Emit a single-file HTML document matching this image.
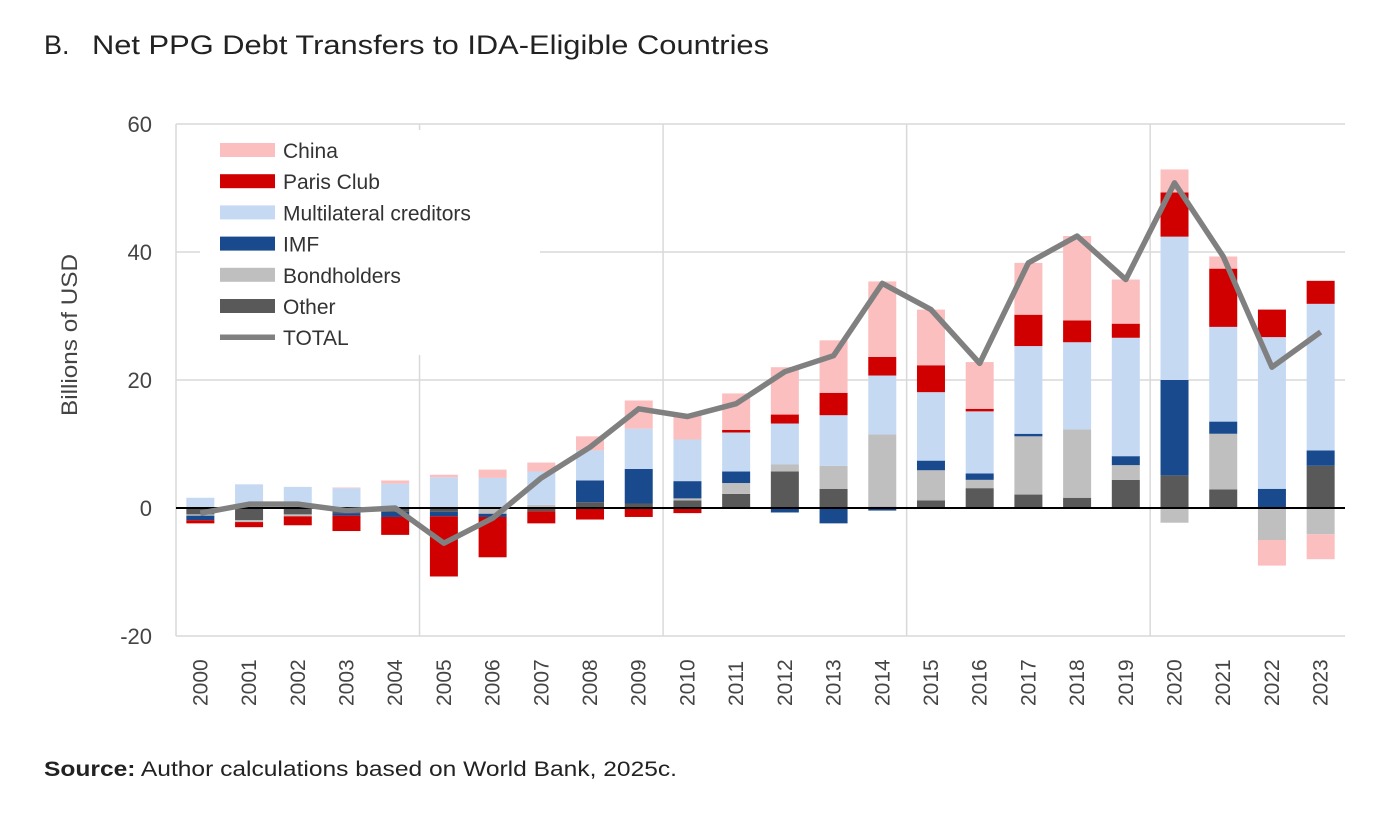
<!DOCTYPE html>
<html><head><meta charset="utf-8"><style>
body{margin:0;background:#fff;width:1392px;height:824px;overflow:hidden;font-family:"Liberation Sans",sans-serif;}
svg text{font-family:"Liberation Sans","DejaVu Sans",sans-serif;}
</style></head><body>
<svg id="chart" width="1392" height="824">
<text x="44" y="54" font-size="27" fill="#222"><tspan>B.</tspan><tspan x="92" textLength="677" lengthAdjust="spacingAndGlyphs">Net PPG Debt Transfers to IDA-Eligible Countries</tspan></text>
<text transform="translate(77,335) rotate(-90)" text-anchor="middle" font-size="22" fill="#444" textLength="162" lengthAdjust="spacingAndGlyphs">Billions of USD</text>
<text x="44" y="776" font-size="21" fill="#222" textLength="633" lengthAdjust="spacingAndGlyphs"><tspan font-weight="bold">Source:</tspan> Author calculations based on World Bank, 2025c.</text>
<g id="grid"></g><g id="bars"></g><g id="line"></g><g id="legend"></g>
</svg>
<script>
const years=["2000","2001","2002","2003","2004","2005","2006","2007","2008","2009","2010","2011","2012","2013","2014","2015","2016","2017","2018","2019","2020","2021","2022","2023"];
const other=[-1.0,-1.9,-1.0,-0.8,-0.6,-0.6,0,-0.5,0.9,0.7,1.2,2.2,5.7,3.0,0.2,1.2,3.1,2.1,1.6,4.4,5.1,2.9,0,6.6];
const bondholders=[-0.2,-0.3,-0.3,0,0,0,-0.9,0.5,0,0,0.3,1.7,1.1,3.6,11.3,4.7,1.3,9.1,10.7,2.3,-2.3,8.7,-5.0,-4.1];
const imf=[-0.7,0,0,-0.4,-0.8,-0.7,-0.5,0,3.4,5.4,2.7,1.8,-0.7,-2.4,-0.4,1.5,1.0,0.4,0,1.4,14.9,1.9,3.0,2.4];
const multilateral=[1.6,3.7,3.3,3.1,3.8,4.8,4.7,5.2,4.7,6.3,6.5,6.1,6.4,7.9,9.2,10.7,9.7,13.7,13.6,18.5,22.4,14.8,23.7,22.9];
const parisClub=[-0.5,-0.8,-1.4,-2.4,-2.8,-9.4,-6.3,-1.9,-1.8,-1.4,-0.8,0.4,1.4,3.5,2.9,4.2,0.4,4.9,3.4,2.2,6.9,9.1,4.3,3.6];
const china=[0,0,0,0.1,0.5,0.4,1.3,1.4,2.2,4.4,3.8,5.7,7.4,8.2,11.8,8.7,7.3,8.1,13.2,6.9,3.6,1.9,-4.0,-3.9];
const total=[-0.8,0.6,0.6,-0.4,0.0,-5.5,-1.6,4.7,9.5,15.5,14.3,16.3,21.3,23.8,35.1,31.0,22.6,38.3,42.5,35.7,50.8,39.3,22.0,27.5];
const yTicks=[60,40,20,0,-20];
const NS="http://www.w3.org/2000/svg";
const X0=176,X1=1345,band=(X1-X0)/years.length;
const y=v=>508-v*6.4;
const xc=i=>X0+band*(i+0.5);
function mk(tag,attrs,parent){const e=document.createElementNS(NS,tag);for(const k in attrs)e.setAttribute(k,attrs[k]);parent.appendChild(e);return e;}
const grid=document.getElementById('grid');
yTicks.forEach(t=>{
  if(t!==0){const l=mk('line',{x1:X0,x2:X1,y1:y(t),y2:y(t),stroke:'#d9d9d9','stroke-width':1.5},grid);
  
  }
  const tx=mk('text',{x:152,y:y(t)+8,'text-anchor':'end','font-size':22,fill:'#444'},grid);tx.textContent=t;
  
  
});
[0,5,10,15,20].forEach(i=>{const l=mk('line',{x1:X0+band*i,x2:X0+band*i,y1:y(60),y2:y(-20),stroke:'#d9d9d9','stroke-width':1.5},grid);
  
  });
years.forEach((yr,i)=>{const t=mk('text',{transform:`translate(${xc(i)+7},706) rotate(-90)`,'font-size':21,fill:'#444'},grid);t.textContent=yr;
  
  });
const series=[["Other",other,"#595959"],["Bondholders",bondholders,"#bfbfbf"],["IMF",imf,"#1a4a8e"],["Multilateral creditors",multilateral,"#c5d9f3"],["Paris Club",parisClub,"#d00000"],["China",china,"#fbbfc0"]];
const bars=document.getElementById('bars');const bw=28;
years.forEach((yr,i)=>{let pos=0,neg=0;
  series.forEach(([name,arr,col])=>{const v=arr[i];if(!v)return;let a,b;
    if(v>0){a=pos;b=pos+v;pos=b;}else{a=neg;b=neg+v;neg=b;}
    const r=mk('rect',{x:xc(i)-bw/2,y:Math.min(y(a),y(b)),width:bw,height:Math.abs(y(a)-y(b)),fill:col},bars);
    
    
  });});
const zl=mk('line',{x1:X0,x2:X1,y1:y(0),y2:y(0),stroke:'#000','stroke-width':2},bars);


const lg=document.getElementById('line');
const pl=mk('polyline',{points:total.map((v,i)=>xc(i)+','+y(v)).join(' '),fill:'none',stroke:'#808080','stroke-width':5.5,'stroke-linejoin':'round'},lg);


const leg=document.getElementById('legend');
const bg=mk('rect',{x:200,y:130,width:340,height:225,fill:'#fff'},leg);


const entries=[["China","#fbbfc0"],["Paris Club","#d00000"],["Multilateral creditors","#c5d9f3"],["IMF","#1a4a8e"],["Bondholders","#bfbfbf"],["Other","#595959"],["TOTAL","line"]];
entries.forEach(([n,c],k)=>{const cy=150+k*31.2;
  let s;
  if(c==='line')s=mk('line',{x1:220,x2:275,y1:cy,y2:cy,stroke:'#808080','stroke-width':5.5},leg);
  else s=mk('rect',{x:220,y:cy-7,width:55,height:14,fill:c},leg);
  
  
  const t=mk('text',{x:283,y:cy+8,'font-size':21,fill:'#333'},leg);t.textContent=n;
  
  
});
</script>
</body></html>
